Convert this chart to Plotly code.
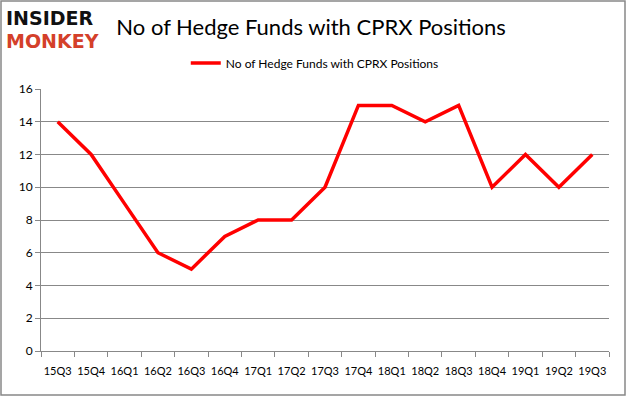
import plotly.graph_objects as go

quarters = ["15Q3", "15Q4", "16Q1", "16Q2", "16Q3", "16Q4", "17Q1", "17Q2", "17Q3",
            "17Q4", "18Q1", "18Q2", "18Q3", "18Q4", "19Q1", "19Q2", "19Q3"]
funds = [14, 12, 9, 6, 5, 7, 8, 8, 10, 15, 15, 14, 15, 10, 12, 10, 12]
series_name = "No of Hedge Funds with CPRX Positions"
title_text = "No of Hedge Funds with CPRX Positions"

W, H = 626, 397
L, T = 41, 89
PW, PH = 568, 262
fig = go.Figure()
fig.add_trace(go.Scatter(x=quarters, y=funds, mode="lines", name=series_name,
                         line=dict(color="#ff0000", width=3.5)))


def px(x):
    return (x - L) / PW


def py(y):
    return (T + PH - y) / PH


fig.update_layout(
    width=W, height=H,
    margin=dict(l=L, r=W - L - PW, t=T, b=H - T - PH, autoexpand=False),
    paper_bgcolor="white", plot_bgcolor="white",
    font=dict(family="Lato, Open Sans, sans-serif", size=12, color="#000000"),
    showlegend=True,
    legend=dict(orientation="h", x=0.482, xanchor="center", y=py(63), yanchor="middle",
                font=dict(size=12), bgcolor="rgba(0,0,0,0)"),
    title=dict(text=title_text, x=0.497, xanchor="center", y=1 - 27 / H, yanchor="middle",
               font=dict(family="Lato, Open Sans, sans-serif", size=22, color="#000000")),
)
fig.update_xaxes(type="category", tickson="boundaries", range=[-0.5, len(quarters) - 0.5],
                 showgrid=False, showline=True, linecolor="#888888", linewidth=1,
                 ticks="outside", ticklen=5, tickcolor="#888888", tickangle=0,
                 automargin=False,
                 tickfont=dict(size=11, color="#000000"), ticklabelstandoff=10)
fig.update_yaxes(range=[0, 16], dtick=2, showgrid=True, gridcolor="#888888", gridwidth=1,
                 showline=True, linecolor="#888888", linewidth=1, automargin=False,
                 ticks="outside", ticklen=5, tickcolor="#888888",
                 tickfont=dict(size=12, color="#000000"), zeroline=False)

# border around the chart
fig.add_shape(type="rect", xref="paper", yref="paper",
              x0=px(1), x1=px(625), y0=py(395), y1=py(1),
              line=dict(color="#888888", width=1.5), fillcolor="rgba(0,0,0,0)", layer="below")

# logo
fig.add_annotation(text="<b>INSIDER</b>", xref="paper", yref="paper",
                   x=px(4), y=py(18), xanchor="left", yanchor="middle",
                   showarrow=False,
                   font=dict(family="DejaVu Sans", size=19, color="#111111"))
fig.add_annotation(text="<b>MONKEY</b>", xref="paper", yref="paper",
                   x=px(4), y=py(41), xanchor="left", yanchor="middle",
                   showarrow=False,
                   font=dict(family="DejaVu Sans", size=19, color="#d4402a"))

fig.write_html("out.html", config={"displayModeBar": False},
               post_script="document.body.style.margin='0px';")
